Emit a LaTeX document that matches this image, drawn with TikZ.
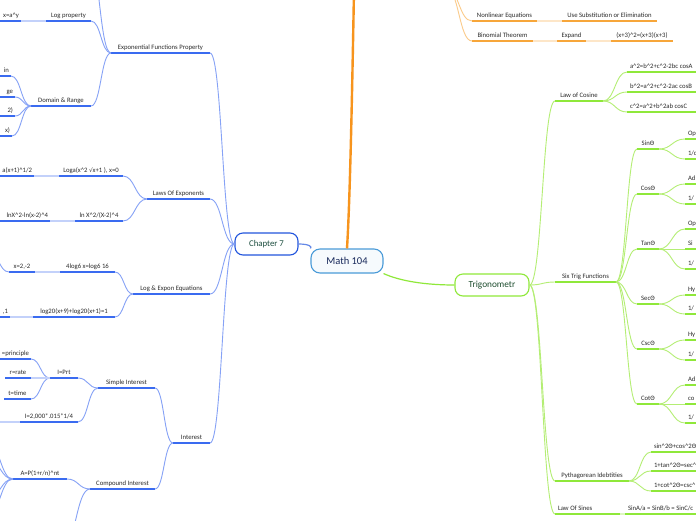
\documentclass[tikz,border=0pt]{standalone}
\usepackage{fontspec}
\setmainfont{Carlito}
\newfontfamily\djv{DejaVu Sans}
\usetikzlibrary{calc}
\definecolor{bul}{HTML}{3A6BF0}
\definecolor{bcon}{HTML}{86A2F6}
\definecolor{blt}{HTML}{C3D1FA}
\definecolor{gul}{HTML}{8FE83A}
\definecolor{gcon}{HTML}{B4EE74}
\definecolor{glt}{HTML}{DDF8C0}
\definecolor{oul}{HTML}{F7A63A}
\definecolor{ocon}{HTML}{FBCB8A}
\definecolor{olt}{HTML}{FDE6C8}
\definecolor{omain}{HTML}{F7941D}
\definecolor{txt}{HTML}{2A2A2A}
\definecolor{c7b}{HTML}{2255DD}
\definecolor{c7t}{HTML}{1B4D3E}
\definecolor{mb}{HTML}{4A9BD8}
\definecolor{mt}{HTML}{17285A}
\definecolor{tt}{HTML}{1D4D2E}
\newcommand\crt{\textasciicircum}
\tikzset{
  lab/.style={inner xsep=0pt, inner ysep=3.5pt, text height=4.8pt, text depth=0pt,
    font=\fontsize{6.7}{7.8}\selectfont, text=txt, outer sep=0pt},
  bu/.style={draw=bul, line width=2pt},
  gu/.style={draw=gul, line width=2pt},
  ou/.style={draw=oul, line width=2pt},
  bc/.style={draw=bcon, line width=0.9pt},
  gc/.style={draw=gcon, line width=0.9pt},
  oc/.style={draw=ocon, line width=0.9pt},
  bl/.style={draw=blt, line width=1.3pt},
  gl/.style={draw=glt, line width=2pt},
  ol/.style={draw=olt, line width=2pt},
  sc/.style={to path={let \p1=(\tikztostart), \p2=(\tikztotarget) in
     .. controls ({0.5*\x1+0.5*\x2},\y1) and ({0.5*\x1+0.5*\x2},\y2) .. (\p2)}},
}
% centred label: name, x1, x2, y, text, underline style
\newcommand\lbc[6]{\node[lab, minimum width={(#3)-(#2)}, anchor=south] (#1) at ({((#2)+(#3))/2},#4) {#5};
  \draw[#6] (#1.south west) -- (#1.south east);}
% label whose text sits at the right end x2 (clipped at left)
\newcommand\lbr[6]{\node[lab, anchor=south east, inner xsep=2pt] (#1) at (#3,#4) {#5};
  \coordinate (#1w) at (#2,#4);
  \draw[#6] (#1w) -- (#1.south east);}
% label whose text sits at the left end x1 (clipped at right)
\newcommand\lbl[6]{\node[lab, anchor=south west, inner xsep=3pt] (#1) at (#2,#4) {#5};
  \coordinate (#1e) at (#3,#4);
  \draw[#6] (#1.south west) -- (#1e);}
\begin{document}
\begin{tikzpicture}[x=1pt,y=-1pt]
\fill[white] (0,0) rectangle (696,520);
\useasboundingbox (0,0) rectangle (696,520);

% ---------- central nodes
\node[draw=mb, line width=1.1pt, fill=mb!5, rounded corners=9pt, minimum width=72pt, minimum height=24pt,
  inner sep=0pt, text=mt, font=\fontsize{10.5}{12}\selectfont] (m) at (347,261) {Math 104};
\node[draw=c7b, line width=1.1pt, fill=white, rounded corners=8pt, minimum width=63pt, minimum height=22pt,
  inner sep=0pt, text=c7t, font=\fontsize{8.8}{10}\selectfont] (ch) at (266.5,244) {Chapter 7};
\node[draw=gul, line width=1.1pt, fill=white, rounded corners=8pt, minimum width=74pt, minimum height=22pt,
  inner sep=0pt, text=tt, font=\fontsize{9.3}{11}\selectfont] (tr) at (492,285) {Trigonometr};

\coordinate (om) at (354,-10);
\draw[omain, line width=2.4pt] (m.north) .. controls (350,200) and (352,100) .. (om);
\draw[draw=c7b!70, line width=1.2pt] (ch.east) .. controls (310,244) and (312,247) .. (m.north west);
\draw[draw=gul, line width=1.2pt] (m.south east) .. controls (400,281) and (425,285) .. (tr.west);

% ---------- Chapter 7 (blue)
\lbc{efp}{111}{210}{53}{Exponential Functions Property}{bu}
\lbc{loe}{147}{210}{199}{Laws Of Exponents}{bu}
\lbc{lee}{133}{210}{294}{Log \& Expon Equations}{bu}
\lbc{int}{173}{210}{443}{Interest}{bu}
\foreach \q in {efp,loe,lee,int} \draw[bc] (\q.south east) to[sc] (ch.west);

\lbc{lgp}{46}{91}{21}{Log property}{bu}
\lbr{xay}{-5}{21}{21}{x=a\crt y}{bu}
\draw[bl] (xay.south east) -- (lgp.south west);
\lbc{dr}{31}{91}{106}{Domain \& Range}{bu}
\lbr{d1}{-5}{11}{76}{in}{bu}
\lbr{d2}{-5}{15}{97}{ge}{bu}
\lbr{d3}{-5}{15}{116}{2)}{bu}
\lbr{d4}{-5}{12}{136}{x)}{bu}
\foreach \q in {d1,d2,d3,d4} \draw[bc] (\q.south east) to[sc] (dr.south west);
\coordinate (eup) at (88,-45);
\foreach \q in {eup,lgp.south east,dr.south east} \draw[bc] (\q) to[sc] (efp.south west);

\lbc{lga}{59}{123}{176}{Loga(x\crt 2 {\djv\fontsize{5.8}{7}\selectfont √}x+1 ), x=0}{bu}
\lbr{lgb}{-5}{34}{176}{a(x+1)\crt 1/2}{bu}
\draw[bl] (lgb.south east) -- (lga.south west);
\lbc{lnx}{75}{123}{221}{ln X\crt 2/(X-2)\crt 4}{bu}
\lbr{lny}{-5}{50}{221}{lnX\crt 2-ln(x-2)\crt 4}{bu}
\draw[bl] (lny.south east) -- (lnx.south west);
\foreach \q in {lga,lnx} \draw[bc] (\q.south east) to[sc] (loe.south west);

\lbc{fl}{60}{115}{272}{4log6 x=log6 16}{bu}
\lbc{x22}{9}{35}{272}{x=2,-2}{bu}
\draw[bl] (x22.south east) -- (fl.south west);
\coordinate (xup) at (-12,250);
\draw[bc] (xup) to[sc] (x22.south west);
\lbc{l20}{33}{115}{317}{log20(x+9)+log20(x+1)=1}{bu}
\lbr{l20b}{-5}{10}{317}{,1}{bu}
\draw[bl] (l20b.south east) -- (l20.south west);
\foreach \q in {fl,l20} \draw[bc] (\q.south east) to[sc] (lee.south west);

\lbc{si}{98}{155}{388}{Simple Interest}{bu}
\lbc{ipr}{50}{78}{378}{I=Prt}{bu}
\lbr{pp}{-5}{31}{359}{=principle}{bu}
\lbc{rr}{5}{31}{378}{r=rate}{bu}
\lbc{tm}{4}{31}{399}{t=time}{bu}
\foreach \q in {pp,tm} \draw[bc] (\q.south east) to[sc] (ipr.south west);
\draw[bl] (rr.south east) -- (ipr.south west);
\lbc{i2}{20}{78}{422}{I=2,000*.015*1/4}{bu}
\coordinate (i2c) at (-5,422);
\draw[bl] (i2c) -- (i2.south west);
\foreach \q in {ipr,i2} \draw[bc] (\q.south east) to[sc] (si.south west);

\lbc{ci}{90}{155}{489}{Compound Interest}{bu}
\lbc{apr}{13}{67}{479}{A=P(1+r/n)\crt nt}{bu}
\coordinate (a1) at (-12,444);
\coordinate (a2) at (-12,460);
\coordinate (a3) at (-12,498);
\coordinate (a4) at (-12,514);
\foreach \q in {a1,a2,a3,a4} \draw[bc] (\q) to[sc] (apr.south west);
\coordinate (cdn) at (62,548);
\draw[bc] (apr.south east) to[sc] (ci.south west);
\draw[bc] (cdn) to[sc] (ci.south west);
\foreach \q in {si,ci} \draw[bc] (\q.south east) to[sc] (int.south west);

% ---------- orange
\coordinate (op) at (446,-12);
\lbc{nle}{472}{537}{21}{Nonlinear Equations}{ou}
\lbc{uso}{562}{657}{21}{Use Substitution or Elimination}{ou}
\lbc{bt}{472}{533}{41}{Binomial Theorem}{ou}
\lbc{ex}{557}{586}{41}{Expand}{ou}
\lbc{x3}{611}{673}{41}{(x+3)\crt 2=(x+3)(x+3)}{ou}
\draw[ol] (nle.south east) -- (uso.south west);
\draw[ol] (bt.south east) -- (ex.south west);
\draw[ol] (ex.south east) -- (x3.south west);
\foreach \q in {nle,bt} \draw[oc] (op) to[sc] (\q.south west);

% ---------- green (trigonometry)
\lbc{loc}{555}{603}{101}{Law of Cosine}{gu}
\lbl{ca}{627}{700}{72}{a\crt 2=b\crt 2+c\crt 2-2bc cosA}{gu}
\lbl{cb}{627}{700}{92}{b\crt 2=a\crt 2+c\crt 2-2ac cosB}{gu}
\lbl{cc}{627}{700}{112}{c\crt 2=a\crt 2+b\crt 2ab cosC}{gu}
\foreach \q in {ca,cb,cc} \draw[gc] (loc.south east) to[sc] (\q.south west);

\lbc{stf}{555}{616}{282}{Six Trig Functions}{gu}
\lbc{sn}{637}{659}{149}{SinΘ}{gu}
\lbc{cs}{637}{659}{194}{CosΘ}{gu}
\lbc{tn}{637}{659}{249}{TanΘ}{gu}
\lbc{sc}{637}{659}{304}{SecΘ}{gu}
\lbc{cc2}{637}{659}{349}{CscΘ}{gu}
\lbc{ct}{637}{659}{404}{CotΘ}{gu}
\foreach \q in {sn,cs,tn,sc,cc2,ct} \draw[gc] (stf.south east) to[sc] (\q.south west);

\lbl{sn1}{685}{700}{139}{Op}{gu}
\lbl{sn2}{685}{700}{159}{1/c}{gu}
\lbl{cs1}{685}{700}{184}{Ad}{gu}
\lbl{cs2}{685}{700}{204}{1/}{gu}
\lbl{tn1}{685}{700}{229}{Op}{gu}
\lbl{tn2}{685}{700}{249}{Si}{gu}
\lbl{tn3}{685}{700}{269}{1/}{gu}
\lbl{sc1}{685}{700}{295}{Hy}{gu}
\lbl{sc2}{685}{700}{314}{1/}{gu}
\lbl{cc1}{685}{700}{340}{Hy}{gu}
\lbl{cc3}{685}{700}{360}{1/}{gu}
\lbl{ct1}{685}{700}{385}{Ad}{gu}
\lbl{ct2}{685}{700}{404}{co}{gu}
\lbl{ct3}{685}{700}{423}{1/}{gu}
\foreach \qa/\qb in {sn/sn1,sn/sn2,cs/cs1,cs/cs2,tn/tn1,tn/tn2,tn/tn3,sc/sc1,sc/sc2,cc2/cc1,cc2/cc3,ct/ct1,ct/ct2,ct/ct3}
  \draw[gc] (\qa.south east) to[sc] (\qb.south west);

\lbc{pyi}{555}{629}{481}{Pythagorean Idebtities}{gu}
\lbl{py1}{651}{700}{452}{sin\crt 2Θ+cos\crt 2Θ}{gu}
\lbl{py2}{651}{700}{471}{1+tan\crt 2Θ=sec\crt}{gu}
\lbl{py3}{651}{700}{491}{1+cot\crt 2Θ=csc\crt}{gu}
\foreach \q in {py1,py2,py3} \draw[gc] (pyi.south east) to[sc] (\q.south west);

\lbl{los}{555}{620}{514}{Law Of Sines}{gu}
\lbl{sab}{625}{700}{514}{SinA/a = SinB/b = SinC/c}{gu}
\draw[gl] (lose) -- (sab.south west);

\foreach \q in {loc,stf,pyi,los} \draw[gc] (tr.east) to[sc] (\q.south west);
\end{tikzpicture}
\end{document}
